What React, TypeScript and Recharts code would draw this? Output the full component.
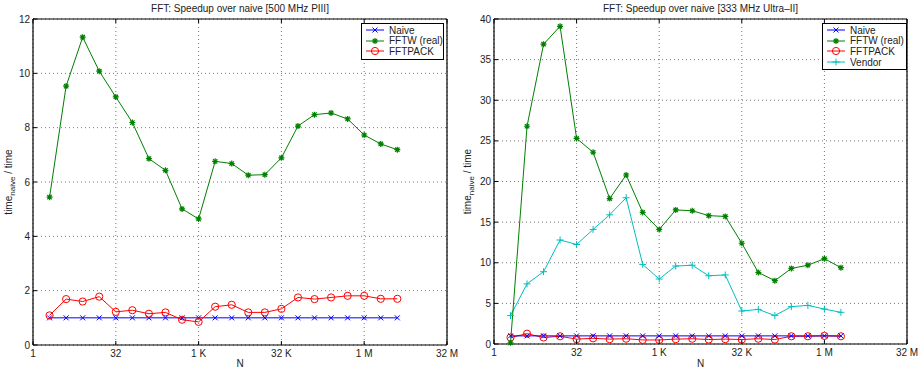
import { LineChart, Line, XAxis, YAxis, CartesianGrid } from 'recharts'

// x positions are log2(N)
const xTicks = [0, 5, 10, 15, 20, 25]
const xTickLabels = ['1', '32', '1 K', '32 K', '1 M', '32 M']

const leftExp = [1, 2, 3, 4, 5, 6, 7, 8, 9, 10, 11, 12, 13, 14, 15, 16, 17, 18, 19, 20, 21, 22]
const leftNaive = [1, 1, 1, 1, 1, 1, 1, 1, 1, 1, 1, 1, 1, 1, 1, 1, 1, 1, 1, 1, 1, 1]
const leftFftw = [5.44, 9.53, 11.33, 10.08, 9.13, 8.19, 6.86, 6.43, 5.01, 4.64, 6.76, 6.68, 6.25, 6.27, 6.89, 8.06, 8.48, 8.54, 8.32, 7.73, 7.4, 7.19]
const leftFftpack = [1.09, 1.69, 1.6, 1.78, 1.22, 1.28, 1.15, 1.2, 0.93, 0.85, 1.41, 1.48, 1.2, 1.2, 1.33, 1.75, 1.69, 1.75, 1.81, 1.81, 1.7, 1.7]
const leftYTicks = [0, 2, 4, 6, 8, 10, 12]

const rightExp = [1, 2, 3, 4, 5, 6, 7, 8, 9, 10, 11, 12, 13, 14, 15, 16, 17, 18, 19, 20, 21]
const rightNaive = [1, 1, 1, 1, 1, 1, 1, 1, 1, 1, 1, 1, 1, 1, 1, 1, 1, 1, 1, 1, 1]
const rightFftw = [0.15, 26.8, 36.9, 39.1, 25.3, 23.6, 17.9, 20.8, 16.2, 14.1, 16.5, 16.4, 15.8, 15.7, 12.4, 8.8, 7.8, 9.3, 9.7, 10.5, 9.4]
const rightFftpack = [0.8, 1.27, 0.8, 0.95, 0.6, 0.7, 0.6, 0.65, 0.5, 0.5, 0.6, 0.65, 0.55, 0.6, 0.55, 0.65, 0.55, 0.95, 0.95, 1.0, 0.95]
const rightVendor = [3.5, 7.4, 8.9, 12.8, 12.25, 14.1, 15.9, 18.0, 9.8, 8.0, 9.6, 9.7, 8.4, 8.5, 4.06, 4.26, 3.5, 4.6, 4.75, 4.3, 3.9]
const rightYTicks = [0, 5, 10, 15, 20, 25, 30, 35, 40]

const FONT = '"Liberation Sans", Arial, Helvetica, sans-serif'
const BLUE = '#0000ff'
const GREEN = '#008000'
const RED = '#ff0000'
const CYAN = '#00bfbf'

const leftRows = leftExp.map((n, i) => ({ n, naive: leftNaive[i], fftw: leftFftw[i], fftpack: leftFftpack[i] }))
const rightRows = rightExp.map((n, i) => ({
  n,
  naive: rightNaive[i],
  fftw: rightFftw[i],
  fftpack: rightFftpack[i],
  vendor: rightVendor[i],
}))

const XMark = ({ cx, cy, color }: any) => (
  <path d={`M${cx - 2.5},${cy - 2.5}L${cx + 2.5},${cy + 2.5}M${cx - 2.5},${cy + 2.5}L${cx + 2.5},${cy - 2.5}`} stroke={color} strokeWidth={1} fill="none" />
)
const StarMark = ({ cx, cy, color }: any) => (
  <path
    d={`M${cx - 3},${cy}L${cx + 3},${cy}M${cx},${cy - 3}L${cx},${cy + 3}M${cx - 2.2},${cy - 2.2}L${cx + 2.2},${cy + 2.2}M${cx - 2.2},${cy + 2.2}L${cx + 2.2},${cy - 2.2}`}
    stroke={color}
    strokeWidth={1.2}
    fill="none"
  />
)
const CircleMark = ({ cx, cy, color }: any) => <circle cx={cx} cy={cy} r={3.6} stroke={color} strokeWidth={1} fill="none" />
const PlusMark = ({ cx, cy, color }: any) => (
  <path d={`M${cx - 3.5},${cy}L${cx + 3.5},${cy}M${cx},${cy - 3.5}L${cx},${cy + 3.5}`} stroke={color} strokeWidth={1} fill="none" />
)

const BottomTick = ({ x, y, payload }: any) => (
  <g>
    <line x1={x} x2={x} y1={y} y2={y - 4} stroke="#000" />
    <text x={x} y={y + 12} textAnchor="middle" fontSize={10} fontFamily={FONT} fill="#222">
      {xTickLabels[xTicks.indexOf(payload.value)]}
    </text>
  </g>
)
const TopTick = ({ x, y }: any) => <line x1={x} x2={x} y1={y} y2={y + 4} stroke="#000" />
const LeftTick = ({ x, y, payload }: any) => (
  <g>
    <line x1={x} x2={x + 4} y1={y} y2={y} stroke="#000" />
    <text x={x - 3} y={y + 3.5} textAnchor="end" fontSize={10} fontFamily={FONT} fill="#222">
      {payload.value}
    </text>
  </g>
)
const RightTick = ({ x, y }: any) => <line x1={x} x2={x - 4} y1={y} y2={y} stroke="#000" />

const YLabel = ({ viewBox }: any) => {
  const cx = 12
  const cy = viewBox.y + viewBox.height / 2
  return (
    <text transform={`translate(${cx},${cy}) rotate(-90)`} textAnchor="middle" fontSize={10} fontFamily={FONT} fill="#222">
      time
      <tspan fontSize={8} dy={3}>naive</tspan>
      <tspan dy={-3}> / time</tspan>
    </text>
  )
}

type Entry = { name: string; color: string; Mark: any }

function LegendBox({ entries, left, top, width }: { entries: Entry[]; left: number; top: number; width: number }) {
  return (
    <div
      style={{
        position: 'absolute',
        left,
        top,
        width,
        border: '1px solid #000',
        background: '#fff',
        padding: '1px 0 2px 0',
        fontFamily: FONT,
        fontSize: 10,
        color: '#222',
      }}
    >
      {entries.map((e) => (
        <div key={e.name} style={{ display: 'flex', alignItems: 'center', height: 10.6 }}>
          <svg width={26} height={10} style={{ marginLeft: 1 }}>
            <line x1={3} x2={21} y1={5} y2={5} stroke={e.color} strokeWidth={1} />
            <e.Mark cx={12} cy={5} color={e.color} />
          </svg>
          <span>{e.name}</span>
        </div>
      ))}
    </div>
  )
}

function Panel({
  rows,
  yTicks,
  yMax,
  series,
  title,
  box,
}: {
  rows: any[]
  yTicks: number[]
  yMax: number
  series: { key: string; color: string; Mark: any }[]
  title: string
  box: { top: number; right: number; bottom: number; left: number }
}) {
  const w = 459
  const plotCenter = box.left + (w - box.left - box.right) / 2
  const axisStyle = { stroke: '#000', strokeWidth: 1.2 }
  return (
    <div style={{ position: 'relative', width: w, height: 373 }}>
      <div
        style={{
          position: 'absolute',
          top: 3,
          left: plotCenter - 150,
          width: 300,
          textAlign: 'center',
          fontFamily: FONT,
          fontSize: 10,
          color: '#222',
        }}
      >
        {title}
      </div>
      <div
        style={{
          position: 'absolute',
          top: 358,
          left: plotCenter - 20,
          width: 40,
          textAlign: 'center',
          fontFamily: FONT,
          fontSize: 10,
          color: '#222',
        }}
      >
        N
      </div>
      <LineChart width={w} height={373} data={rows} margin={{ top: 0, right: 0, bottom: 0, left: 0 }}>
        <CartesianGrid stroke="#777" strokeDasharray="1 3" verticalValues={xTicks} horizontalValues={yTicks} />
        <XAxis
          dataKey="n"
          type="number"
          domain={[0, 25]}
          ticks={xTicks}
          height={box.bottom}
          tickSize={0}
          tickMargin={0}
          tick={<BottomTick />}
          axisLine={axisStyle}
          tickLine={false}
          interval={0}
        />
        <XAxis
          xAxisId="top"
          orientation="top"
          dataKey="n"
          type="number"
          domain={[0, 25]}
          ticks={xTicks}
          height={box.top}
          tickSize={0}
          tickMargin={0}
          tick={<TopTick />}
          axisLine={axisStyle}
          tickLine={false}
          interval={0}
        />
        <YAxis
          type="number"
          domain={[0, yMax]}
          ticks={yTicks}
          width={box.left}
          tickSize={0}
          tickMargin={0}
          tick={<LeftTick />}
          axisLine={axisStyle}
          tickLine={false}
          interval={0}
          label={<YLabel />}
        />
        <YAxis
          yAxisId="right"
          orientation="right"
          type="number"
          domain={[0, yMax]}
          ticks={yTicks}
          width={box.right}
          tickSize={0}
          tickMargin={0}
          tick={<RightTick />}
          axisLine={axisStyle}
          tickLine={false}
          interval={0}
        />
        {series.map((s) => (
          <Line
            key={s.key}
            dataKey={s.key}
            type="linear"
            stroke={s.color}
            strokeWidth={1}
            dot={(p: any) => <s.Mark key={`${s.key}-${p.index}`} cx={p.cx} cy={p.cy} color={s.color} />}
            activeDot={false}
            isAnimationActive={false}
          />
        ))}
      </LineChart>
    </div>
  )
}

const leftSeries = [
  { key: 'naive', name: 'Naive', color: BLUE, Mark: XMark },
  { key: 'fftw', name: 'FFTW (real)', color: GREEN, Mark: StarMark },
  { key: 'fftpack', name: 'FFTPACK', color: RED, Mark: CircleMark },
]
const rightSeries = [
  ...leftSeries.slice(0, 3),
  { key: 'vendor', name: 'Vendor', color: CYAN, Mark: PlusMark },
]

export default function App() {
  return (
    <div style={{ position: 'absolute', left: 0, top: 0, width: 919, height: 373, background: '#fff', display: 'flex' }}>
      <div style={{ position: 'relative' }}>
        <Panel
          rows={leftRows}
          yTicks={leftYTicks}
          yMax={12}
          series={leftSeries}
          title="FFT: Speedup over naive [500 MHz PIII]"
          box={{ top: 19, right: 12, bottom: 28, left: 33 }}
        />
        <LegendBox entries={leftSeries.map((s) => ({ name: s.name, color: s.color, Mark: s.Mark }))} left={361} top={23} width={81} />
      </div>
      <div style={{ position: 'relative' }}>
        <Panel
          rows={rightRows}
          yTicks={rightYTicks}
          yMax={40}
          series={rightSeries.slice().reverse()}
          title="FFT: Speedup over naive [333 MHz Ultra–II]"
          box={{ top: 19, right: 11, bottom: 29, left: 35 }}
        />
        <LegendBox entries={rightSeries.map((s) => ({ name: s.name, color: s.color, Mark: s.Mark }))} left={363} top={23} width={83} />
      </div>
    </div>
  )
}
